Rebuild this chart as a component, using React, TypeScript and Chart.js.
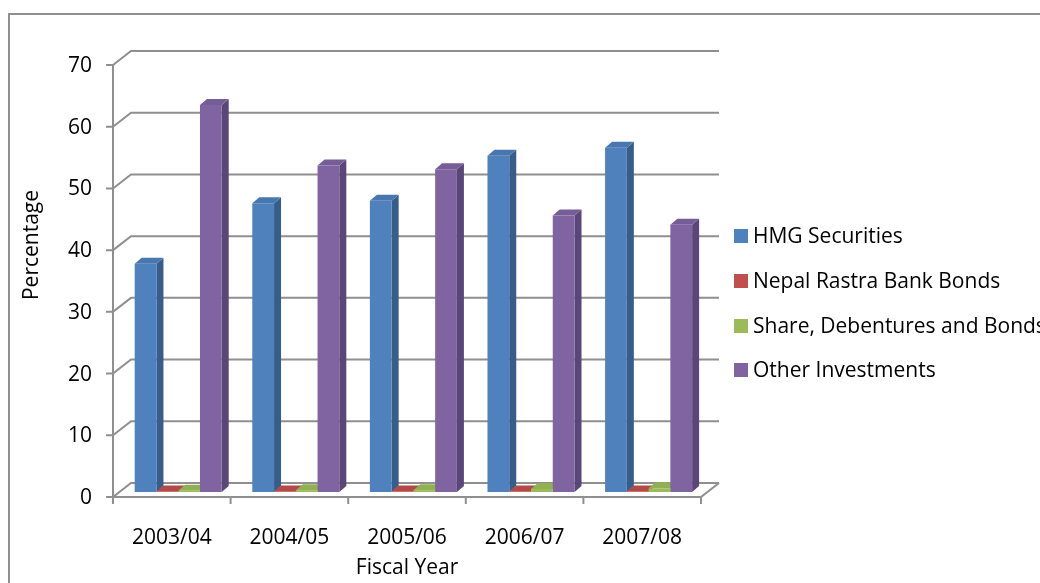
import React, { useEffect, useRef } from "react";
import { Chart, registerables } from "chart.js";

Chart.register(...registerables);

const categories = ["2003/04", "2004/05", "2005/06", "2006/07", "2007/08"];
const seriesNames = [
  "HMG Securities",
  "Nepal Rastra Bank Bonds",
  "Share, Debentures and Bonds",
  "Other Investments",
];
const hmgSecurities = [37.0, 46.8, 47.2, 54.5, 55.8];
const nrbBonds = [0.1, 0.1, 0.1, 0.1, 0.1];
const shareDebentures = [0.2, 0.3, 0.3, 0.5, 0.6];
const otherInvestments = [62.7, 52.9, 52.3, 44.8, 43.3];
const yMin = 0;
const yMax = 70;
const yStep = 10;
const xTitle = "Fiscal Year";
const yTitle = "Percentage";

const frontColors = ["#4F81BD", "#C0504D", "#9BBB59", "#8064A2"];
const sideColors = ["#375D8B", "#8C3936", "#718A3F", "#5A4677"];
const topColors = ["#4877B0", "#B44A47", "#91B053", "#775D98"];

const FONT = '"Open Sans", "DejaVu Sans", sans-serif';
const WALL_DX = 18;
const WALL_DY = -14;
const BAR_DX = 6.4;
const BAR_DY = -5;
const BAR_DEPTH_X = 7;
const BAR_DEPTH_Y = -6;
const GRID = "#8f8f8f";

const threeD = {
  id: "threeD",
  beforeDraw(chart: any) {
    const ctx = chart.ctx;
    ctx.save();
    ctx.fillStyle = "#ffffff";
    ctx.fillRect(0, 0, chart.width, chart.height);
    ctx.strokeStyle = GRID;
    ctx.lineWidth = 2;
    ctx.beginPath();
    ctx.moveTo(9, chart.height + 5);
    ctx.lineTo(9, 14);
    ctx.lineTo(chart.width + 5, 14);
    ctx.stroke();
    ctx.restore();
  },
  beforeDatasetsDraw(chart: any) {
    const ctx = chart.ctx;
    const ys = chart.scales.y;
    const area = chart.chartArea;
    const L = area.left;
    const R = area.right;
    const y0 = ys.getPixelForValue(yMin);
    const yTop = ys.getPixelForValue(yMax);
    ctx.save();
    ctx.strokeStyle = GRID;
    ctx.lineWidth = 2;
    ctx.lineCap = "butt";
    ctx.beginPath();
    for (let v = yMin; v <= yMax; v += yStep) {
      const y = ys.getPixelForValue(v);
      ctx.moveTo(L - 7, y);
      ctx.lineTo(L, y);
      ctx.lineTo(L + WALL_DX, y + WALL_DY);
      ctx.lineTo(R + WALL_DX, y + WALL_DY);
    }
    ctx.moveTo(L, yTop);
    ctx.lineTo(L, y0 + 7);
    ctx.moveTo(L, y0);
    ctx.lineTo(R, y0);
    ctx.lineTo(R + WALL_DX, y0 + WALL_DY);
    const n = categories.length;
    const w = (R - L) / n;
    for (let k = 0; k <= n; k++) {
      const x = L + k * w;
      ctx.moveTo(x, y0);
      ctx.lineTo(x, y0 + 7);
    }
    ctx.stroke();
    ctx.restore();

    ctx.save();
    ctx.translate(BAR_DX, BAR_DY);
    const metas = chart.data.datasets.map((_: any, i: number) => chart.getDatasetMeta(i));
    for (let c = 0; c < categories.length; c++) {
      for (let s = 0; s < metas.length; s++) {
        const el = metas[s].data[c];
        if (!el) continue;
        const p = el.getProps(["x", "y", "base", "width"], true);
        const xl = p.x - p.width / 2;
        const xr = p.x + p.width / 2;
        const top = Math.min(p.y, p.base);
        const base = Math.max(p.y, p.base);
        ctx.fillStyle = sideColors[s];
        ctx.beginPath();
        ctx.moveTo(xr, top);
        ctx.lineTo(xr + BAR_DEPTH_X, top + BAR_DEPTH_Y);
        ctx.lineTo(xr + BAR_DEPTH_X, base + BAR_DEPTH_Y);
        ctx.lineTo(xr, base);
        ctx.closePath();
        ctx.fill();
        ctx.fillStyle = topColors[s];
        ctx.beginPath();
        ctx.moveTo(xl, top);
        ctx.lineTo(xl + BAR_DEPTH_X, top + BAR_DEPTH_Y);
        ctx.lineTo(xr + BAR_DEPTH_X, top + BAR_DEPTH_Y);
        ctx.lineTo(xr, top);
        ctx.closePath();
        ctx.fill();
      }
    }
  },
  afterDatasetsDraw(chart: any) {
    chart.ctx.restore();
  },
  afterDraw(chart: any) {
    const ctx = chart.ctx;
    const ys = chart.scales.y;
    const xs = chart.scales.x;
    const area = chart.chartArea;
    ctx.save();
    ctx.fillStyle = "#000000";
    ctx.font = `21px ${FONT}`;
    ctx.textBaseline = "middle";
    ctx.textAlign = "right";
    for (let v = yMin; v <= yMax; v += yStep) {
      ctx.fillText(String(v), area.left - 21, ys.getPixelForValue(v) + 1);
    }
    ctx.textAlign = "center";
    categories.forEach((c, i) => {
      ctx.fillText(c, xs.getPixelForValue(i), 538);
    });
    ctx.fillText(xTitle, (area.left + area.right) / 2, 568);
    ctx.save();
    ctx.translate(32, 245);
    ctx.rotate(-Math.PI / 2);
    ctx.fillText(yTitle, 0, 0);
    ctx.restore();
    ctx.textAlign = "left";
    const rows = [236, 281, 326, 370];
    chart.data.datasets.forEach((ds: any, i: number) => {
      const y = rows[i];
      ctx.fillStyle = frontColors[i];
      ctx.fillRect(734, y - 7, 14, 14);
      ctx.fillStyle = "#000000";
      ctx.fillText(ds.label, 753, y + 1);
    });
    ctx.restore();
  },
};

export default function App() {
  const ref = useRef<HTMLCanvasElement | null>(null);
  useEffect(() => {
    let chart: any = null;
    let cancelled = false;
    const make = () => {
      if (cancelled || !ref.current) return;
      const values = [hmgSecurities, nrbBonds, shareDebentures, otherInvestments];
      chart = new Chart(ref.current, {
        type: "bar",
        data: {
          labels: categories,
          datasets: values.map((d, i) => ({
            label: seriesNames[i],
            data: d,
            backgroundColor: frontColors[i],
            borderWidth: 0,
            barPercentage: 1,
            categoryPercentage: 0.74,
            clip: false as any,
          })),
        },
        options: {
          animation: false,
          responsive: false,
          devicePixelRatio: 1,
          layout: { padding: { left: 113, right: 339, top: 65, bottom: 86 } },
          plugins: { legend: { display: false }, tooltip: { enabled: false } },
          scales: {
            x: { display: false, offset: true },
            y: { display: false, min: yMin, max: yMax, ticks: { stepSize: yStep } },
          },
        },
        plugins: [threeD],
      });
    };
    const fl = (document as any).fonts;
    if (fl && fl.load) {
      fl.load(`21px "Open Sans"`).then(make, make);
    } else make();
    return () => {
      cancelled = true;
      if (chart) chart.destroy();
    };
  }, []);
  return (
    <div
      style={{
        position: "fixed",
        left: 0,
        top: 0,
        width: 1040,
        height: 583,
        overflow: "hidden",
        background: "#fff",
      }}
    >
      <canvas ref={ref} width={1040} height={583} style={{ display: "block" }} />
    </div>
  );
}
